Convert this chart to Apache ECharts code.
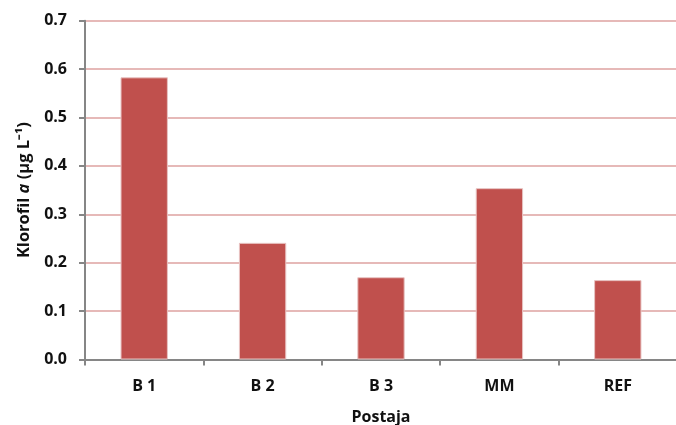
<!DOCTYPE html>
<html><head><meta charset="utf-8">
<script src="https://cdn.jsdelivr.net/npm/echarts@6/dist/echarts.min.js"></script>
<style>html,body{margin:0;padding:0;background:#fff}#c{width:676px;height:425px}</style>
</head><body><div id="c"></div>
<script>
const categories = ['B 1', 'B 2', 'B 3', 'MM', 'REF'];
const values = [0.583, 0.241, 0.170, 0.354, 0.164];
const yTicks = ['0.0','0.1','0.2','0.3','0.4','0.5','0.6','0.7'];
const xName = 'Postaja';

const chart = echarts.init(document.getElementById('c'), null, {renderer: 'canvas'});
const font = '"Open Sans", "Liberation Sans", sans-serif';
chart.setOption({
  animation: false,
  grid: {left: 85, right: -1, top: 20.7, bottom: 65.5, containLabel: false, outerBoundsMode: 'none'},
  xAxis: {
    type: 'category', data: categories,
    name: xName, nameLocation: 'middle', nameGap: 50,
    nameTextStyle: {fontFamily: font, fontWeight: 'bold', fontSize: 16, color: '#111'},
    axisLine: {lineStyle: {color: '#868686', width: 2}},
    axisTick: {show: true, length: 6, alignWithLabel: false, lineStyle: {color: '#868686', width: 2}},
    axisLabel: {fontFamily: font, fontWeight: 'bold', fontSize: 16, color: '#111', margin: 19},
    splitLine: {show: false}
  },
  yAxis: {
    type: 'value', min: 0, max: 0.7, interval: 0.1,
    name: '{n|Klorofil }{i|a}{n| (µg L⁻¹)}', nameLocation: 'middle', nameGap: 52, nameRotate: 90,
    nameTextStyle: {
      rich: {
        n: {fontFamily: font, fontWeight: 'bold', fontSize: 16.5, color: '#111'},
        i: {fontFamily: font, fontWeight: 'bold', fontStyle: 'italic', fontSize: 16.5, color: '#111'}
      }
    },
    axisLine: {show: true, lineStyle: {color: '#868686', width: 2}},
    axisTick: {show: true, length: 6, lineStyle: {color: '#868686', width: 2}},
    axisLabel: {fontFamily: font, fontWeight: 'bold', fontSize: 16, color: '#111', margin: 18,
      formatter: (v) => yTicks[Math.round(v * 10)]},
    splitLine: {lineStyle: {color: '#E6B9B8', width: 2}}
  },
  series: [{
    type: 'bar', data: values, barWidth: '40%',
    itemStyle: {color: '#C0504D', borderColor: '#E8C4C3', borderWidth: 1}
  }]
});
</script></body></html>
